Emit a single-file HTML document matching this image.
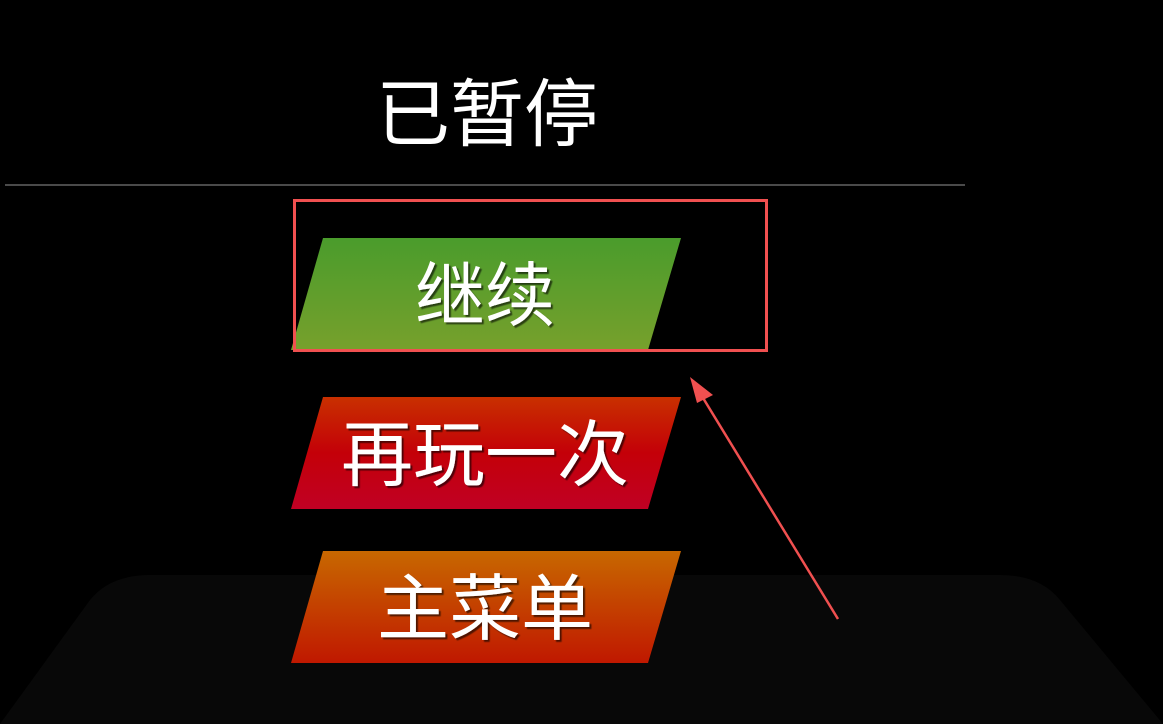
<!DOCTYPE html>
<html><head><meta charset="utf-8"><style>
html,body{margin:0;padding:0;background:#000;width:1163px;height:724px;overflow:hidden}
svg{display:block}
text{font-family:"Liberation Sans","Noto Sans CJK SC",sans-serif;fill:#fff}
</style></head><body>
<svg width="1163" height="724" viewBox="0 0 1163 724">
<defs>
<linearGradient id="g" x1="0" y1="0" x2="0" y2="1"><stop offset="0" stop-color="#4a9c2c"/><stop offset="1" stop-color="#77a02c"/></linearGradient>
<linearGradient id="r" x1="0" y1="0" x2="0" y2="1"><stop offset="0" stop-color="#c83000"/><stop offset="0.5" stop-color="#c40008"/><stop offset="1" stop-color="#c00024"/></linearGradient>
<linearGradient id="o" x1="0" y1="0" x2="0" y2="1"><stop offset="0" stop-color="#c86800"/><stop offset="1" stop-color="#c01800"/></linearGradient>
<filter id="s"><feDropShadow dx="2" dy="2" stdDeviation="0.5" flood-color="#000" flood-opacity="0.6"/></filter>
</defs>
<path d="M0 724 L90 600 Q110 575 150 575 L1000 575 Q1040 575 1060 600 L1163 724 Z" fill="#080808"/>
<text x="487" y="140" font-size="74" text-anchor="middle">已暂停</text>
<rect x="5" y="184" width="960" height="2" fill="#4a4a4a"/>
<polygon points="323,238 681,238 648,350 291,350" fill="url(#g)"/>
<polygon points="323,397 681,397 648,509 291,509" fill="url(#r)"/>
<polygon points="323,551 681,551 648,663 291,663" fill="url(#o)"/>
<text x="485" y="320" font-size="70" text-anchor="middle" filter="url(#s)">继续</text>
<text x="485" y="480" font-size="72" text-anchor="middle" filter="url(#s)">再玩一次</text>
<text x="485" y="634" font-size="72" text-anchor="middle" filter="url(#s)">主菜单</text>
<rect x="294.5" y="200.5" width="472" height="150" fill="none" stroke="#f05050" stroke-width="3"/>
<line x1="838" y1="619" x2="700" y2="393" stroke="#f05050" stroke-width="2.5"/>
<polygon points="690,377 713,395 697,403" fill="#f05050"/>
</svg>
</body></html>
